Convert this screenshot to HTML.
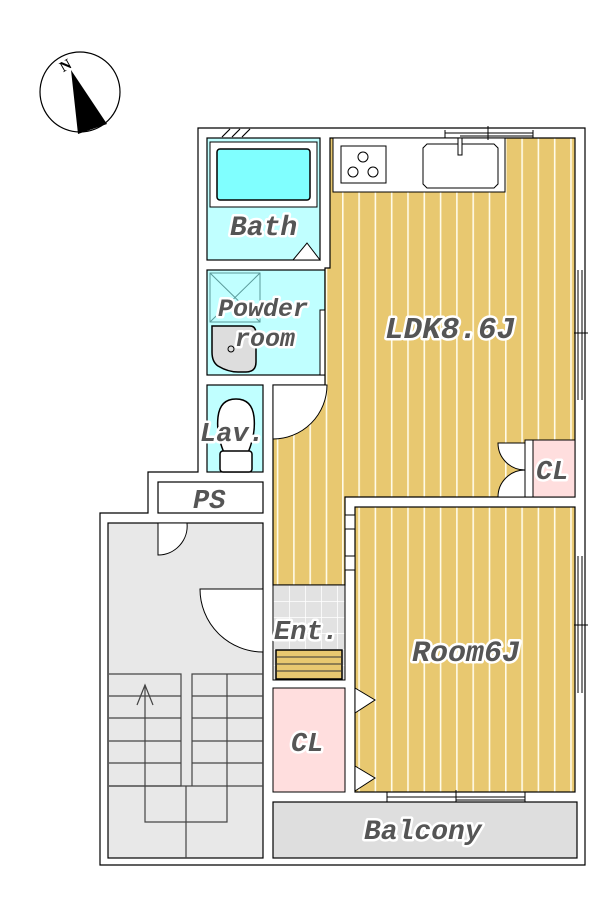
<!DOCTYPE html>
<html><head><meta charset="utf-8"><style>
html,body{margin:0;padding:0;background:#fff;width:614px;height:905px;overflow:hidden}
text{font-family:"Liberation Mono","DejaVu Sans Mono",monospace;font-style:italic;font-weight:bold;fill:#555;stroke:#fff;stroke-width:5;paint-order:stroke;stroke-linejoin:round}
</style></head><body>
<svg width="614" height="905" viewBox="0 0 614 905" xmlns="http://www.w3.org/2000/svg">
<defs>
<pattern id="wood" x="342" y="0" width="16.3" height="10" patternUnits="userSpaceOnUse">
<rect width="16.3" height="10" fill="#e8c870"/><rect x="0" width="1.6" height="10" fill="#fffbe8"/>
</pattern>
<pattern id="tile" x="273" y="585" width="16" height="16" patternUnits="userSpaceOnUse">
<rect width="16" height="16" fill="#e2e2e2"/><path d="M0 0H16M0 0V16" stroke="#fff" stroke-width="1.5"/>
</pattern>
</defs>
<!-- compass -->
<circle cx="80" cy="92" r="40" fill="#fff" stroke="#000" stroke-width="1.2"/>
<polygon points="71,70 107,124 78,134" fill="#000"/>
<text x="60" y="70" style="font-family:'Liberation Serif',serif;font-weight:bold;font-style:normal;fill:#000;stroke:none;font-size:15px" transform="rotate(-30 66 65)">N</text>

<!-- outer outline -->
<path d="M198,128 H585 V865 H100 V513 H148 V472 H198 Z" fill="#fff" stroke="#000" stroke-width="1.2"/>
<path d="M222,137 l8,-8 M232,137 l8,-8 M242,137 l8,-8" stroke="#000" stroke-width="1.2"/>

<!-- bath -->
<rect x="207" y="138" width="113" height="122" fill="#c0ffff" stroke="#000" stroke-width="1.2"/>
<rect x="210" y="142" width="107" height="65" fill="#fff" stroke="#000"/>
<rect x="217" y="149" width="93" height="51" rx="3" fill="#80ffff" stroke="#000" stroke-width="1.5"/>
<polygon points="293,260 307,243 320,260" fill="#fff" stroke="#000"/>
<text x="230" y="235" font-size="28">Bath</text>

<!-- powder -->
<rect x="207" y="270" width="118" height="105" fill="#c0ffff" stroke="#000" stroke-width="1.2"/>
<rect x="210" y="273" width="50" height="49" fill="none" stroke="#5a9a9a"/>
<path d="M210,273 L260,322 M260,273 L210,322" stroke="#5a9a9a"/>
<path d="M212,326 h38 q6,0 6,8 v28 q0,10 -10,10 h-8 q-10,0 -20,-6 q-6,-4 -6,-14 v-20 q0,-6 0,-6 z" fill="#ddd" stroke="#000" stroke-width="1.5"/>
<circle cx="231" cy="349" r="3" fill="none" stroke="#000"/>
<rect x="320" y="310" width="5" height="65" fill="#fff" stroke="#000"/>
<text x="218" y="316" font-size="25">Powder</text>
<text x="235" y="346" font-size="25">room</text>

<!-- lav -->
<rect x="207" y="385" width="56" height="87" fill="#c0ffff" stroke="#000" stroke-width="1.2"/>
<path d="M225,455 q-9,-20 -7,-38 q2,-18 18,-18 q16,0 18,18 q2,18 -7,38 z" fill="#fff" stroke="#000" stroke-width="1.5"/>
<rect x="220" y="451" width="32" height="21" rx="3" fill="#fff" stroke="#000" stroke-width="1.5"/>
<text x="200" y="441" font-size="27">Lav.</text>

<!-- PS -->
<rect x="158" y="482" width="105" height="31" fill="#fff" stroke="#000" stroke-width="1.2"/>
<text x="193" y="508" font-size="27">PS</text>

<!-- LDK -->
<path d="M330,138 H575 V497 H345 V585 H273 V385 H325 V268 H330 Z" fill="url(#wood)" stroke="#000" stroke-width="1.2"/>
<rect x="333" y="138" width="172" height="54" fill="#fff" stroke="#000"/>
<rect x="341" y="146" width="45" height="37" fill="#fff" stroke="#000"/>
<circle cx="363" cy="157" r="5" fill="none" stroke="#000"/><circle cx="353" cy="172" r="5" fill="none" stroke="#000"/><circle cx="373" cy="172" r="5" fill="none" stroke="#000"/>
<path d="M427,144 h67 l4,4 v36 l-4,4 h-67 l-4,-4 v-36 z" fill="#fff" stroke="#000"/>
<rect x="458" y="138" width="4" height="17" fill="#fff" stroke="#000"/>
<path d="M445,130 V138 M533,130 V138 M488,126 V140 M445,133 H533 M460,136 H533" stroke="#000"/>
<path d="M273,385 H327 A54,54 0 0 1 273,439 Z" fill="#fff" stroke="#000"/>
<path d="M578,270 V400 M582,270 V400 M574,333 H588" stroke="#000"/>
<text x="385" y="338" font-size="31">LDK8.6J</text>

<!-- CL right -->
<rect x="533" y="440" width="42" height="57" fill="#ffdede" stroke="#000"/>
<rect x="525" y="440" width="8" height="57" fill="#fff" stroke="#000"/>
<path d="M525,443 H498 A27,27 0 0 0 525,470 Z" fill="#fff" stroke="#000"/>
<path d="M525,497 H498 A27,27 0 0 1 525,470 Z" fill="#fff" stroke="#000"/>
<text x="536" y="479" font-size="27">CL</text>

<!-- Room -->
<rect x="355" y="507" width="220" height="285" fill="url(#wood)" stroke="#000" stroke-width="1.2"/>
<rect x="345" y="515" width="10" height="14" fill="#fff" stroke="#000"/>
<rect x="345" y="556" width="10" height="14" fill="#fff" stroke="#000"/>
<polygon points="355,688 375,700 355,713" fill="#fff" stroke="#000"/>
<polygon points="355,766 375,778 355,791" fill="#fff" stroke="#000"/>
<path d="M578,556 V693 M582,556 V693 M574,625 H588" stroke="#000"/>
<path d="M387,792 V802 M525,792 V802 M456,790 V804 M387,797 H525 M456,800 H525" stroke="#000"/>
<text x="412" y="661" font-size="30">Room6J</text>

<!-- Ent -->
<rect x="273" y="585" width="72" height="95" fill="url(#tile)" stroke="#000"/>
<rect x="276" y="650" width="66" height="29" fill="#e8c870" stroke="#000" stroke-width="1.5"/>
<path d="M276,657 H342 M276,664 H342 M276,671 H342" stroke="#333"/>
<text x="274" y="639" font-size="27">Ent.</text>

<!-- CL bottom -->
<rect x="273" y="688" width="72" height="104" fill="#ffdede" stroke="#000"/>
<text x="291" y="751" font-size="27">CL</text>

<!-- balcony -->
<rect x="273" y="802" width="304" height="56" fill="#dedede" stroke="#000" stroke-width="1.2"/>
<text x="364" y="839" font-size="28">Balcony</text>

<!-- stairs -->
<rect x="108" y="523" width="155" height="335" fill="#e8e8e8" stroke="#000" stroke-width="1.2"/>
<path d="M158,523 V555 A29,29 0 0 0 187,523 Z" fill="#fff" stroke="#000"/>
<path d="M263,589 H200 A63,63 0 0 0 263,652 Z" fill="#fff" stroke="#000"/>
<g stroke="#444" fill="none" stroke-width="1.2">
<path d="M109,674 H181 V786 H109 M192,786 V674 H263"/>
<path d="M109,696 H181 M109,718 H181 M109,741 H181 M109,763 H181 M109,786 H263"/>
<path d="M192,696 H263 M192,718 H263 M192,741 H263 M192,763 H263"/>
<path d="M145,685 V822 H227 V674 M186,786 V858"/>
<path d="M137,705 L145,685 L153,705"/>
</g>
</svg>
</body></html>
